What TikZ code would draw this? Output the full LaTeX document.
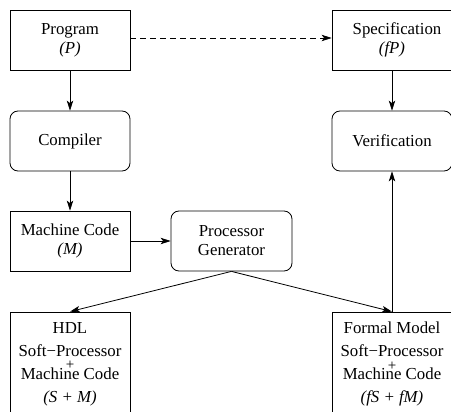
\documentclass[tikz,border=0pt]{standalone}
\usepackage{fontspec}
\setmainfont{Liberation Serif}
\usetikzlibrary{arrows.meta}
\begin{document}
\begin{tikzpicture}[x=1pt,y=-1pt,
  box/.style={draw, line width=0.8pt, minimum width=120pt, minimum height=60pt,
    inner sep=0pt, align=center, font=\fontsize{16.8}{19}\selectfont},
  rbox/.style={box, rounded corners=8pt},
  tallbox/.style={box, minimum height=104pt, font=\fontsize{16.8}{23}\selectfont},
  arr/.style={-{Stealth[length=10pt,width=6.5pt,inset=2.5pt]}, line width=0.8pt}]
\useasboundingbox (0,0) rectangle (451,412);
\clip (0,0) rectangle (451,412);

% a small plus set just above a line of text
\newcommand{\plusabove}[1]{\ooalign{#1\cr\hfil\raisebox{9.5pt}[0pt][0pt]{\fontsize{15}{15}\selectfont +}\hfil\cr}}

% top row
\node[box]  (prog) at (70,40)  {Program\\\itshape (P)};
\node[box]  (spec) at (392,40) {\hspace{10pt}Specification\\\itshape (fP)};
% second row
\node[rbox] (comp) at (70,141)  {Compiler};
\node[rbox] (veri) at (392,141) {Verification};
% third row
\node[box]  (mach) at (70,241)    {Machine Code\\\itshape (M)};
\node[rbox, minimum width=121pt] (pgen) at (231.5,241) {Processor\\Generator};
% bottom row (boxes run past the lower edge)
\node[tallbox] (hdl) at (70,364)
  {HDL\\Soft−Processor\\\plusabove{Machine Code}\\\itshape (S + M)};
\node[tallbox] (fmod) at (392,364)
  {Formal Model\hspace{14pt}\\Soft−Processor\\\plusabove{Machine Code}\\\itshape (fS + fM)};

\coordinate (fmtop) at (fmod.north);

% connectors
\draw[arr, dashed, dash pattern=on 6pt off 4pt] (prog.east |- 0,38) -- (spec.west |- 0,38);
\draw[arr] (prog) -- (comp);
\draw[arr] (comp) -- (mach);
\draw[arr] (spec) -- (veri);
\draw[arr] (mach) -- (pgen);
\draw[arr] (pgen.south) -- (hdl.north);
\draw[arr] (pgen.south) -- (fmtop);
\draw[arr] (fmtop) -- (veri.south);
\end{tikzpicture}
\end{document}
